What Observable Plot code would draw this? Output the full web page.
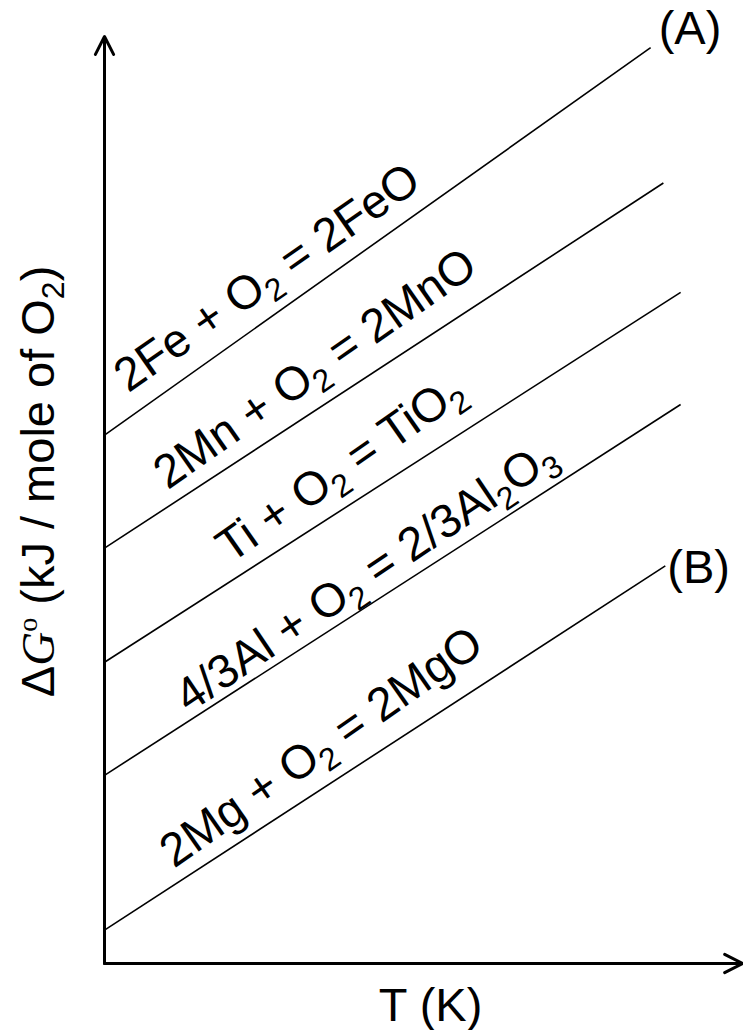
<!DOCTYPE html>
<html><head><meta charset="utf-8">
<script src="https://cdn.jsdelivr.net/npm/d3@7"></script>
<script src="https://cdn.jsdelivr.net/npm/@observablehq/plot@0.6"></script>
<style>body{margin:0;background:#fff}</style>
</head><body><div id="chart"></div>
<script>
// Reactions (Ellingham-type diagram, schematic, arbitrary units)
const reactions = ["2Fe + O_2 = 2FeO", "2Mn + O_2 = 2MnO", "Ti + O_2 = TiO_2", "4/3Al + O_2 = 2/3Al_2O_3", "2Mg + O_2 = 2MgO"];
const tStart = [0, 0, 0, 0, 0];
const gStart = [57.0, 44.8, 32.5, 20.3, 3.6];
const tEnd = [85.6, 87.6, 90.3, 90.3, 87.9];
const gEnd = [98.8, 84.2, 72.4, 60.3, 42.9];
const labelT = [25.5, 33, 37, 41, 34];
const endTags = ["(A)", "", "", "", "(B)"];
const xTitle = "T (K)";
const yTitle = "\u0394*G^o (kJ / mole of O_2)";

const lines = reactions.map((r, i) => ({r, x1: tStart[i], y1: gStart[i], x2: tEnd[i], y2: gEnd[i]}));
const onLine = (l, t) => l.y1 + (l.y2 - l.y1) * (t - l.x1) / (l.x2 - l.x1);
const labels = lines.map((l, i) => ({text: l.r, x: labelT[i], y: onLine(l, labelT[i])}));
const mainLabels = labels.filter((d, i) => i !== 3);
const alLabel = labels.filter((d, i) => i === 3);
const tagA = lines.filter((l, i) => endTags[i] === "(A)").map(l => ({x: l.x2, y: l.y2, t: "(A)"}));
const tagB = lines.filter((l, i) => endTags[i] === "(B)").map(l => ({x: l.x2, y: l.y2, t: "(B)"}));

const FONT = "Liberation Sans, Arial, Helvetica, sans-serif";
const FS = 47;
const txt = {fontSize: FS, fill: "#000", fontFamily: FONT, lineAnchor: "middle"};

const chart = Plot.plot({
  width: 743, height: 1030,
  marginLeft: 104, marginRight: 1, marginTop: 36, marginBottom: 67,
  x: {domain: [0, 100], axis: null},
  y: {domain: [0, 100], axis: null},
  style: {fontFamily: FONT, background: "#fff"},
  marks: [
    Plot.arrow([{x1: 0, y1: 0, x2: 0, y2: 100}, {x1: 0, y1: 0, x2: 100, y2: 0}],
      {x1: "x1", y1: "y1", x2: "x2", y2: "y2", stroke: "#000", strokeWidth: 3, headLength: 10, headAngle: 54}),
    Plot.link(lines, {x1: "x1", y1: "y1", x2: "x2", y2: "y2", stroke: "#000", strokeWidth: 1.6}),
    Plot.text(mainLabels, {x: "x", y: "y", text: "text", rotate: -35, dy: -42, textAnchor: "middle", ...txt}),
    Plot.text(alLabel, {x: "x", y: "y", text: "text", rotate: -34, dy: -31, textAnchor: "middle", ...txt}),
    Plot.text(tagA, {x: "x", y: "y", text: "t", textAnchor: "start", dx: 8, dy: -19, ...txt}),
    Plot.text(tagB, {x: "x", y: "y", text: "t", textAnchor: "start", dx: 2, dy: 2, ...txt}),
    Plot.text([xTitle], {frameAnchor: "bottom", x: 51.1, dy: 42, textAnchor: "middle", text: d => d, ...txt}),
    Plot.text([yTitle], {frameAnchor: "left", y: 52, dx: -66, rotate: -90, textAnchor: "middle", text: d => d, ...txt})
  ]
});

// Rich text: _x subscript, ^x superscript, *x italic serif
function richify(el, fs) {
  const s = el.textContent;
  if (!/[_^*]/.test(s)) return;
  while (el.firstChild) el.removeChild(el.firstChild);
  const ns = "http://www.w3.org/2000/svg";
  let buf = "";
  const flush = () => { if (buf) { const t = document.createElementNS(ns, "tspan"); t.textContent = buf; el.appendChild(t); buf = ""; } };
  for (let i = 0; i < s.length; i++) {
    const c = s[i];
    if ((c === "_" || c === "^" || c === "*") && i + 1 < s.length) {
      flush();
      const t = document.createElementNS(ns, "tspan");
      t.textContent = s[++i];
      if (c === "_") { t.setAttribute("font-size", fs * 0.68); t.setAttribute("baseline-shift", -fs * 0.22); }
      else if (c === "^") { t.setAttribute("font-size", fs * 0.6); t.setAttribute("baseline-shift", fs * 0.36); t.setAttribute("font-family", "Liberation Serif, Times New Roman, serif"); }
      else { t.setAttribute("font-style", "italic"); t.setAttribute("font-family", "Liberation Serif, Times New Roman, serif"); }
      el.appendChild(t);
    } else buf += c;
  }
  flush();
}
d3.select(chart).selectAll("text").each(function() { richify(this, FS); });
document.getElementById("chart").appendChild(chart);
</script></body></html>
